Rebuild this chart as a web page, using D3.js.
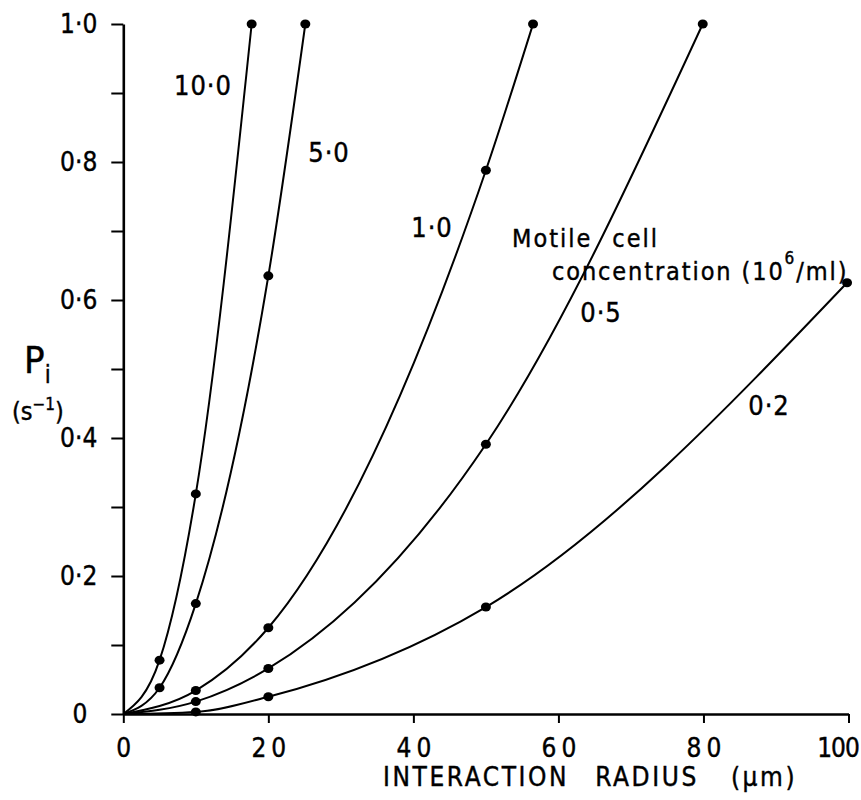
<!DOCTYPE html>
<html>
<head>
<meta charset="utf-8">
<script src="https://cdn.jsdelivr.net/npm/d3@7"></script>
<style>
  html, body { margin: 0; padding: 0; background: #fff; }
  svg { display: block; }
  text { font-family: "DejaVu Sans Condensed", "DejaVu Sans", sans-serif; font-stretch: condensed; fill: #000; stroke: #000; stroke-width: 0.4px; }
</style>
</head>
<body>
<svg id="chart" width="861" height="800"></svg>
<script>
// Encounter probability vs. interaction radius, one curve per motile cell concentration
const concentrations = ["10·0", "5·0", "1·0", "0·5", "0·2"];

// Measured points (radius in µm, probability per second)
const radius10 = [5, 10, 17.7];
const prob10   = [0.078, 0.319, 1.0];
const radius5  = [5, 10, 20, 25.1];
const prob5    = [0.038, 0.16, 0.635, 1.0];
const radius1  = [10, 20, 50, 56.5];
const prob1    = [0.034, 0.125, 0.788, 1.0];
const radius05 = [10, 20, 50, 79.9];
const prob05   = [0.018, 0.066, 0.391, 1.0];
const radius02 = [10, 20, 50, 99.8];
const prob02   = [0.003, 0.025, 0.155, 0.625];

const xTicks = [0, 20, 40, 60, 80, 100];
const yTicks = [0, 0.1, 0.2, 0.3, 0.4, 0.5, 0.6, 0.7, 0.8, 0.9, 1.0];
const yLabels = { 0: "0", 0.2: "0·2", 0.4: "0·4", 0.6: "0·6", 0.8: "0·8", 1: "1·0" };

const seriesRadius = [radius10, radius5, radius1, radius05, radius02];
const seriesProb   = [prob10, prob5, prob1, prob05, prob02];

// curve label placement (pixel anchor, centre of text)
const labelPos = [[203, 95], [329, 162], [432, 237], [601, 322], [769, 415]];

const svg = d3.select("#chart");
const x = d3.scaleLinear().domain([0, 100]).range([123.3, 848.5]);
const y = d3.scaleLinear().domain([0, 1]).range([714, 24]);

// axes
const xAxis = d3.axisBottom(x).tickValues(xTicks).tickSize(9).tickSizeOuter(0)
  .tickFormat(d => String(d));
const gx = svg.append("g").attr("transform", `translate(0,${y(0)})`).call(xAxis);
gx.select(".domain").attr("stroke", "#000").attr("stroke-width", 2.6);
gx.selectAll(".tick line").attr("stroke", "#000").attr("stroke-width", 2);
gx.selectAll(".tick text").attr("font-size", 26).attr("dy", "1.2em")
  .attr("letter-spacing", d => (d === 100 ? -1 : 5))
  .attr("dx", d => (d === 100 ? -11 : 2.5));

const yAxis = d3.axisLeft(y).tickValues(yTicks).tickSize(12).tickSizeOuter(0)
  .tickFormat(d => {
    const k = Math.round(d * 10) / 10;
    return yLabels[k] !== undefined ? yLabels[k] : "";
  });
const gy = svg.append("g").attr("transform", `translate(${x(0)},0)`).call(yAxis);
gy.select(".domain").attr("stroke", "#000").attr("stroke-width", 2.6);
gy.selectAll(".tick line").attr("stroke", "#000").attr("stroke-width", 2);
gy.selectAll(".tick text").attr("font-size", 26).attr("x", -26)
  .attr("dx", d => (d === 0 ? -10 : 0));

// curves through the origin and each measured point
const line = d3.line()
  .x(d => x(d[0]))
  .y(d => y(d[1]))
  .curve(d3.curveMonotoneX);

seriesRadius.forEach((rs, i) => {
  const pts = [[0, 0]].concat(rs.map((r, j) => [r, seriesProb[i][j]]));
  svg.append("path")
    .attr("d", line(pts))
    .attr("fill", "none")
    .attr("stroke", "#000")
    .attr("stroke-width", 2);
  svg.append("g").selectAll("ellipse")
    .data(rs.map((r, j) => [r, seriesProb[i][j]]))
    .join("ellipse")
    .attr("cx", d => x(d[0]))
    .attr("cy", d => y(d[1]))
    .attr("rx", 5)
    .attr("ry", 4.5)
    .attr("fill", "#000");
  svg.append("text")
    .attr("x", labelPos[i][0]).attr("y", labelPos[i][1])
    .attr("text-anchor", "middle")
    .attr("font-size", 27)
    .attr("letter-spacing", 1)
    .text(concentrations[i]);
});

// legend title
const mc = svg.append("text").attr("x", 512).attr("y", 247).attr("font-size", 25)
  .attr("letter-spacing", 2);
mc.append("tspan").text("Motile");
mc.append("tspan").attr("dx", 20).text("cell");
const conc = svg.append("text").attr("x", 552).attr("y", 280).attr("font-size", 25)
  .attr("letter-spacing", 1.9);
conc.append("tspan").text("concentration (10");
conc.append("tspan").attr("dy", -16).attr("font-size", 17).text("6");
conc.append("tspan").attr("dy", 16).text("/ml)");

// axis titles
const xt = svg.append("text").attr("x", 383).attr("y", 786).attr("font-size", 26)
  .attr("letter-spacing", 2.6);
xt.append("tspan").text("INTERACTION");
xt.append("tspan").attr("dx", 26).text("RADIUS");
xt.append("tspan").attr("dx", 32).text("(µm)");

const py = svg.append("text").attr("x", 24).attr("y", 373).attr("font-size", 38);
py.append("tspan").text("P");
py.append("tspan").attr("dy", 10).attr("font-size", 24).text("i");

const sy = svg.append("text").attr("x", 12).attr("y", 420).attr("font-size", 25);
sy.append("tspan").text("(s");
sy.append("tspan").attr("dy", -10).attr("font-size", 17).text("−1");
sy.append("tspan").attr("dy", 10).text(")");
</script>
</body>
</html>
